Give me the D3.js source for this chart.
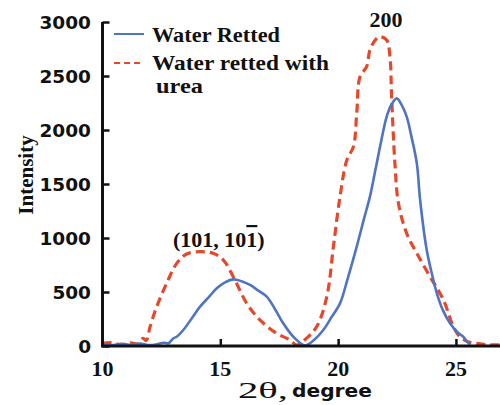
<!DOCTYPE html>
<html><head><meta charset="utf-8">
<script src="https://cdn.jsdelivr.net/npm/d3@7"></script>
<style>body{margin:0;background:#fff}svg{display:block}</style>
</head><body>
<svg id="c" width="500" height="405"></svg>
<script>
const xTicks = [10, 15, 20, 25];
const yTicks = [0, 500, 1000, 1500, 2000, 2500, 3000];
const seriesNames = ["Water Retted", "Water retted with urea"];
const waterRetted = [
  [10.0,15],[10.4,8],[10.8,20],[11.2,10],[11.6,22],[12.0,8],[12.3,15],[12.6,30],[12.8,25],
  [13.0,70],[13.15,86],[13.43,148],[13.8,260],[14.14,364],[14.5,450],[14.85,534],[15.2,590],
  [15.55,617],[15.9,600],[16.26,565],[16.6,515],[16.97,457],[17.3,350],[17.67,210],[18.0,110],
  [18.24,56],[18.6,5],[19.0,60],[19.37,148],[19.7,260],[20.08,395],[20.4,620],[20.79,920],
  [21.1,1180],[21.35,1383],[21.6,1650],[21.78,1846],[22.06,2123],[22.25,2230],[22.49,2293],
  [22.7,2230],[22.91,2123],[23.1,1950],[23.34,1691],[23.48,1352],[23.76,889],[24.0,650],
  [24.19,488],[24.45,330],[24.75,210],[25.05,130],[25.31,86],[25.46,45],[25.6,12]
];
const waterRettedUrea = [
  [10.0,25],[10.4,30],[10.8,12],[11.2,30],[11.5,20],[11.72,71],[11.85,50],[12.02,179],
  [12.3,364],[12.72,580],[13.15,765],[13.57,852],[14.14,873],[14.7,858],[15.13,796],
  [15.55,642],[16.12,395],[16.68,241],[17.39,117],[17.96,56],[18.24,9],[18.6,60],
  [19.09,179],[19.52,457],[19.8,920],[20.08,1383],[20.37,1722],[20.65,1846],[20.79,2154],
  [20.93,2494],[21.21,2586],[21.35,2741],[21.6,2840],[21.78,2864],[22.06,2833],[22.2,2679],
  [22.27,2308],[22.41,1691],[22.56,1321],[22.91,1043],[23.34,858],[23.9,642],[24.47,426],
  [24.89,179],[25.17,86],[25.5,40],[25.88,25],[26.45,10],[26.87,12]
];

const svg = d3.select("#c");
const x = d3.scaleLinear().domain([10, 26.87]).range([102.5, 500]);
const y = d3.scaleLinear().domain([0, 3000]).range([346, 22]);

const lineGen = d3.line().x(d => x(d[0])).y(d => y(d[1])).curve(d3.curveCatmullRom.alpha(0.5));

// series
svg.append("path").datum(waterRettedUrea).attr("d", lineGen)
  .attr("fill","none").attr("stroke","#e4492b").attr("stroke-width",3.2)
  .attr("stroke-dasharray","9,5");
svg.append("path").datum(waterRetted).attr("d", lineGen)
  .attr("fill","none").attr("stroke","#4f74c2").attr("stroke-width",2.6);

// axes
const yAxis = d3.axisRight(y).tickValues(yTicks).tickSize(7).tickFormat("");
const gy = svg.append("g").attr("transform","translate(102.5,0)").call(yAxis);
gy.select(".domain").attr("stroke","#111").attr("stroke-width",3).attr("d","M0,22V346");
gy.selectAll(".tick line").attr("stroke","#111").attr("stroke-width",2.5);

const xAxis = d3.axisTop(x).tickValues(xTicks.filter(v=>v>10)).tickSize(7).tickFormat("");
const gx = svg.append("g").attr("transform","translate(0,346)").call(xAxis);
gx.select(".domain").attr("stroke","#111").attr("stroke-width",3).attr("d","M101,0H500");
gx.selectAll(".tick line").attr("stroke","#111").attr("stroke-width",2.5);

// tick labels
svg.append("g").selectAll("text").data(yTicks).join("text")
  .attr("x", 91).attr("y", d => y(d) + 7)
  .attr("text-anchor","end")
  .attr("font-family","DejaVu Sans").attr("font-weight","bold").attr("font-size",18.5)
  .attr("fill","#111").text(d => d);
svg.append("g").selectAll("text").data(xTicks).join("text")
  .attr("x", d => x(d)).attr("y", 376)
  .attr("text-anchor","middle")
  .attr("font-family","Liberation Serif").attr("font-weight","bold").attr("font-size",22)
  .attr("fill","#111").text(d => d);

// axis titles
svg.append("text").attr("transform","translate(33,175) rotate(-90)")
  .attr("text-anchor","middle")
  .attr("font-family","Liberation Serif").attr("font-weight","bold").attr("font-size",21)
  .attr("fill","#111").text("Intensity");
svg.append("text").attr("x", 238).attr("y", 398)
  .attr("font-family","Liberation Serif").attr("font-size",24).attr("fill","#111")
  .attr("textLength",50).attr("lengthAdjust","spacingAndGlyphs").text("2θ,");
svg.append("text").attr("x", 292).attr("y", 397)
  .attr("font-family","DejaVu Sans").attr("font-weight","bold").attr("font-size",18).attr("fill","#111")
  .attr("textLength",80).attr("lengthAdjust","spacingAndGlyphs").text("degree");

// peak labels
svg.append("text").attr("x", 386).attr("y", 27).attr("text-anchor","middle")
  .attr("font-family","Liberation Serif").attr("font-weight","bold").attr("font-size",22)
  .attr("fill","#111").text("200");
const pl = svg.append("text").attr("x", 173).attr("y", 247)
  .attr("font-family","Liberation Serif").attr("font-weight","bold").attr("font-size",22).attr("fill","#111");
pl.append("tspan").text("(101, 10");
pl.append("tspan").attr("text-decoration","overline").text("1");
pl.append("tspan").text(")");

// legend
const lg = svg.append("g");
lg.append("line").attr("x1",114).attr("x2",144).attr("y1",34).attr("y2",34)
  .attr("stroke","#4f74c2").attr("stroke-width",2);
lg.append("line").attr("x1",114).attr("x2",144).attr("y1",63).attr("y2",63)
  .attr("stroke","#e4492b").attr("stroke-width",2).attr("stroke-dasharray","6,4");
const lt = {"font-family":"Liberation Serif","font-weight":"bold","font-size":22,"fill":"#111","lengthAdjust":"spacingAndGlyphs"};
function st(sel){for(const k in lt) sel.attr(k, lt[k]); return sel;}
st(lg.append("text").attr("x",152).attr("y",42).attr("textLength",128).text(seriesNames[0]));
st(lg.append("text").attr("x",152).attr("y",70).attr("textLength",177).text("Water retted with"));
st(lg.append("text").attr("x",156).attr("y",93).attr("textLength",47).text("urea"));
</script>
</body></html>
